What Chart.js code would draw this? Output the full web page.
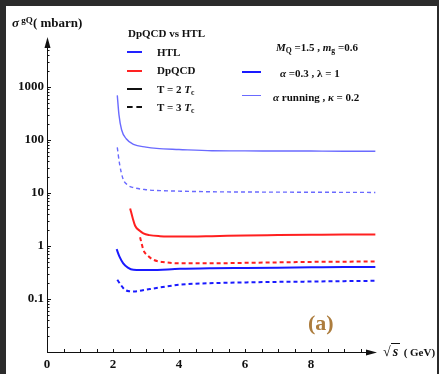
<!DOCTYPE html>
<html><head><meta charset="utf-8">
<script src="https://cdn.jsdelivr.net/npm/chart.js@4"></script>
<style>
html,body{margin:0;padding:0;background:#2b2b2b;width:439px;height:374px;overflow:hidden;}
#frame{position:absolute;left:6px;top:6px;width:431px;height:368px;background:#fff;}
#wrap{position:absolute;left:0;top:0;width:439px;height:374px;}
.t{position:absolute;font-family:"Liberation Serif","Times New Roman",serif;font-weight:bold;color:#111;white-space:nowrap;line-height:1;}
.t i{font-style:italic;}
.t sub{font-size:0.7em;vertical-align:-0.25em;line-height:0;}
.t sup{font-size:0.7em;vertical-align:0.45em;line-height:0;}
.ln{position:absolute;height:0;}
</style></head>
<body>
<div id="frame"></div>
<div id="wrap"><canvas id="c" width="439" height="374"></canvas></div>

<div class="t" style="left:12px;top:16px;font-size:13px;"><i>σ</i><sup> gQ</sup>( mbarn)</div>
<div class="t" style="left:383px;top:345px;font-size:14px;">√<span style="border-top:1px solid #111;padding:0 2px;"><i>s</i></span> <span style="font-size:11px">( GeV)</span></div>
<div class="t" style="left:308px;top:312px;font-size:22px;color:#ad7d3e;">(a)</div>

<div class="t" style="left:128px;top:28px;font-size:11px;">DpQCD vs HTL</div>
<div class="ln" style="left:127px;top:51px;width:15px;border-top:2.5px solid #2222ff;"></div>
<div class="t" style="left:157px;top:47px;font-size:11px;">HTL</div>
<div class="ln" style="left:127px;top:70px;width:15px;border-top:2.5px solid #ff2222;"></div>
<div class="t" style="left:157px;top:65px;font-size:11px;">DpQCD</div>
<div class="ln" style="left:127px;top:88px;width:15px;border-top:2.5px solid #111;"></div>
<div class="t" style="left:157px;top:84px;font-size:11px;">T = 2 <i>T</i><sub>c</sub></div>
<div class="ln" style="left:127px;top:106px;width:15px;border-top:2.5px dashed #111;"></div>
<div class="t" style="left:157px;top:102px;font-size:11px;">T = 3 <i>T</i><sub>c</sub></div>

<div class="t" style="left:276px;top:42px;font-size:11px;"><i>M</i><sub>Q</sub> =1.5 , <i>m</i><sub>g</sub> =0.6</div>
<div class="ln" style="left:242px;top:71px;width:19px;border-top:2.5px solid #1a1aff;"></div>
<div class="t" style="left:280px;top:68px;font-size:11px;"><i>α</i> =0.3 , λ = 1</div>
<div class="ln" style="left:242px;top:95px;width:19px;border-top:1.3px solid #6a6aff;"></div>
<div class="t" style="left:273px;top:92px;font-size:11px;"><i>α</i> running , <i>κ</i> = 0.2</div>

<script>
// ---- data ----
const htlRun2X = [2.13, 2.18, 2.26, 2.4, 2.62, 3.0, 3.32, 4, 5, 6, 7, 8, 9, 9.95];
const htlRun2Y = [690, 300, 155, 105, 82, 73, 69, 66, 62.5, 62, 61.8, 61.5, 61.2, 61];
const htlRun3X = [2.13, 2.2, 2.31, 2.45, 2.62, 3.0, 3.5, 4, 5, 6, 8, 9.95];
const htlRun3Y = [72, 35, 18, 14, 12.6, 11.5, 11.0, 10.8, 10.5, 10.4, 10.3, 10.2];
const dp2X = [2.52, 2.6, 2.67, 2.8, 2.92, 3.1, 3.42, 4, 5, 6, 7, 8, 9, 9.95];
const dp2Y = [5.1, 3.3, 2.4, 1.95, 1.72, 1.6, 1.53, 1.5, 1.53, 1.58, 1.6, 1.62, 1.64, 1.65];
const dp3X = [2.82, 2.87, 2.92, 3.05, 3.22, 3.5, 4.03, 5, 6, 7, 8, 9, 9.95];
const dp3Y = [1.46, 1.1, 0.84, 0.66, 0.55, 0.5, 0.47, 0.47, 0.48, 0.49, 0.5, 0.505, 0.51];
const htl2X = [2.11, 2.2, 2.31, 2.45, 2.62, 3.12, 4.03, 5, 6, 7, 8, 9, 9.95];
const htl2Y = [0.87, 0.62, 0.47, 0.39, 0.355, 0.35, 0.37, 0.38, 0.385, 0.39, 0.395, 0.4, 0.4];
const htl3X = [2.13, 2.25, 2.36, 2.5, 2.62, 3.12, 4.03, 5.14, 6, 7, 8, 9, 9.95];
const htl3Y = [0.23, 0.18, 0.149, 0.14, 0.139, 0.154, 0.186, 0.2, 0.205, 0.21, 0.213, 0.217, 0.22];
const xTickValues = [0, 2, 4, 6, 8];
const yTickValues = [0.1, 1, 10, 100, 1000];
const yTickLabels = ['0.1', '1', '10', '100', '1000'];

const pts = (xs, ys) => xs.map((x, i) => ({x: x, y: ys[i]}));
const DARKBLUE = '#1a1aff', LIGHTBLUE = '#6a6aff', RED = '#ff2020';

function ds(label, xs, ys, color, width, dash) {
  return {label, data: pts(xs, ys), borderColor: color, borderWidth: width,
    borderDash: dash || [], pointRadius: 0, fill: false,
    cubicInterpolationMode: 'monotone'};
}

const axesPlugin = {
  id: 'axesPlugin',
  afterDraw(chart) {
    const ctx = chart.ctx, xs = chart.scales.x, ys = chart.scales.y;
    const x0 = xs.getPixelForValue(0), y0 = ys.bottom;
    const top = ys.top, right = xs.right;
    ctx.save();
    ctx.strokeStyle = '#111'; ctx.fillStyle = '#111'; ctx.lineWidth = 1;
    ctx.beginPath();
    ctx.moveTo(x0 + 0.5, y0); ctx.lineTo(x0 + 0.5, top + 6);
    ctx.moveTo(x0, y0 + 0.5); ctx.lineTo(right - 6, y0 + 0.5);
    ctx.stroke();
    ctx.beginPath();
    ctx.moveTo(x0 + 0.5, top); ctx.lineTo(x0 - 2.5, top + 11); ctx.lineTo(x0 + 3.5, top + 11); ctx.closePath(); ctx.fill();
    ctx.beginPath();
    ctx.moveTo(right, y0 + 0.5); ctx.lineTo(right - 11, y0 - 2.5); ctx.lineTo(right - 11, y0 + 3.5); ctx.closePath(); ctx.fill();
    ctx.beginPath();
    for (let e = -2; e <= 3; e++) {
      for (let m = 1; m <= 9; m++) {
        const v = m * Math.pow(10, e);
        const p = Math.round(ys.getPixelForValue(v)) + 0.5;
        if (p < top + 12 || p > y0 - 1) continue;
        const len = m === 1 ? 4 : 2.5;
        ctx.moveTo(x0, p); ctx.lineTo(x0 + len, p);
      }
    }
    for (let v = 0.5; v < 10; v += 0.5) {
      const p = Math.round(xs.getPixelForValue(v)) + 0.5;
      if (p > right - 12) continue;
      ctx.moveTo(p, y0); ctx.lineTo(p, y0 - 3);
    }
    ctx.stroke();
    ctx.restore();
  }
};

new Chart(document.getElementById('c'), {
  type: 'line',
  data: {
    datasets: [
      ds('HTL, α running, T = 2 Tc', htlRun2X, htlRun2Y, LIGHTBLUE, 1.4),
      ds('HTL, α running, T = 3 Tc', htlRun3X, htlRun3Y, LIGHTBLUE, 1.4, [4, 3]),
      ds('DpQCD, α = 0.3, T = 2 Tc', dp2X, dp2Y, RED, 2),
      ds('DpQCD, α = 0.3, T = 3 Tc', dp3X, dp3Y, RED, 2, [4, 3]),
      ds('HTL, α = 0.3, T = 2 Tc', htl2X, htl2Y, DARKBLUE, 2),
      ds('HTL, α = 0.3, T = 3 Tc', htl3X, htl3Y, DARKBLUE, 2, [4, 3])
    ]
  },
  options: {
    responsive: false, animation: false,
    layout: {padding: {left: 0, right: 62, top: 37, bottom: 0}},
    plugins: {legend: {display: false}, tooltip: {enabled: false}},
    scales: {
      x: {
        type: 'linear', min: 0, max: 10,
        grid: {display: false, drawTicks: false}, border: {display: false},
        afterBuildTicks: s => { s.ticks = xTickValues.map(v => ({value: v})); },
        afterFit: s => { s.height = 22; },
        ticks: {padding: 5, color: '#111', maxRotation: 0, autoSkip: false,
          font: {family: 'Liberation Serif', weight: 'bold', size: 13},
          callback: v => String(v)}
      },
      y: {
        type: 'logarithmic', min: 0.01, max: Math.pow(10, 3.94),
        grid: {display: false, drawTicks: false}, border: {display: false},
        afterBuildTicks: s => { s.ticks = yTickValues.map(v => ({value: v})); },
        afterFit: s => { s.width = 47; },
        ticks: {padding: 3, color: '#111', autoSkip: false,
          font: {family: 'Liberation Serif', weight: 'bold', size: 13},
          callback: (v, i) => yTickLabels[i]}
      }
    }
  },
  plugins: [axesPlugin]
});
</script>
</body></html>
